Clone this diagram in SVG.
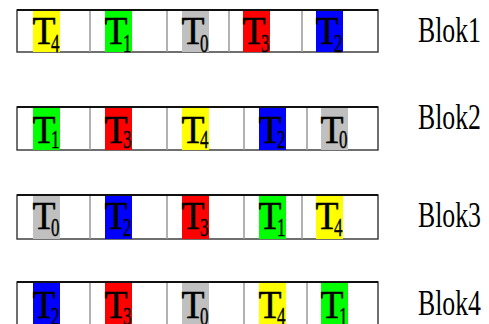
<svg xmlns="http://www.w3.org/2000/svg" width="489" height="324" viewBox="0 0 489 324">
<style>
.box{fill:#fff;stroke:#333;stroke-width:1.4}
.top{stroke:#111;stroke-width:2}
.div{stroke:#999;stroke-width:1.5}
.t{font-family:"Liberation Serif","Times New Roman",serif;font-size:39px;fill:#000;stroke:#000;stroke-width:0.5}
.s{font-family:"Liberation Serif","Times New Roman",serif;font-size:25px;fill:#000;stroke:#000;stroke-width:0.4}
.lbl{font-family:"Liberation Serif","Times New Roman",serif;font-size:36px;fill:#000}
.Y{fill:#ffff00}.G{fill:#00ff00}.Gr{fill:#c0c0c0}.R{fill:#ff0000}.B{fill:#0000ff}
</style>
<rect width="489" height="324" fill="#fff"/>
<g id="blok1">
<rect class="box" x="17" y="10" width="361" height="42"/>
<line class="top" x1="17" y1="10" x2="378" y2="10"/>
<rect class="Y" x="33" y="11" width="27" height="41"/>
<rect class="G" x="105" y="11" width="27" height="41"/>
<rect class="Gr" x="182" y="11" width="27" height="41"/>
<rect class="R" x="243" y="11" width="27" height="41"/>
<rect class="B" x="316" y="11" width="27" height="41"/>
<line class="div" x1="90" y1="11" x2="90" y2="52"/>
<line class="div" x1="167" y1="11" x2="167" y2="52"/>
<line class="div" x1="229" y1="11" x2="229" y2="52"/>
<line class="div" x1="302" y1="11" x2="302" y2="52" stroke="#333"/>
<text class="t" x="32.5" y="44" textLength="23" lengthAdjust="spacingAndGlyphs">T</text><text class="s" x="51" y="51.5" textLength="8.5" lengthAdjust="spacingAndGlyphs">4</text>
<text class="t" x="104.5" y="44" textLength="23" lengthAdjust="spacingAndGlyphs">T</text><text class="s" x="123" y="51.5" textLength="8.5" lengthAdjust="spacingAndGlyphs">1</text>
<text class="t" x="181.5" y="44" textLength="23" lengthAdjust="spacingAndGlyphs">T</text><text class="s" x="200" y="51.5" textLength="8.5" lengthAdjust="spacingAndGlyphs">0</text>
<text class="t" x="242.5" y="44" textLength="23" lengthAdjust="spacingAndGlyphs">T</text><text class="s" x="261" y="51.5" textLength="8.5" lengthAdjust="spacingAndGlyphs">3</text>
<text class="t" x="315.5" y="44" textLength="23" lengthAdjust="spacingAndGlyphs">T</text><text class="s" x="334" y="51.5" textLength="8.5" lengthAdjust="spacingAndGlyphs">2</text>
<text class="lbl" x="418" y="42" textLength="63" lengthAdjust="spacingAndGlyphs">Blok1</text>
</g>
<g id="blok2">
<rect class="box" x="17" y="107" width="361" height="43"/>
<line class="top" x1="17" y1="107" x2="378" y2="107"/>
<rect class="G" x="33" y="108" width="27" height="42"/>
<rect class="R" x="105" y="108" width="27" height="42"/>
<rect class="Y" x="182" y="108" width="27" height="42"/>
<rect class="B" x="259" y="108" width="27" height="42"/>
<rect class="Gr" x="321" y="108" width="27" height="42"/>
<line class="div" x1="90" y1="108" x2="90" y2="150"/>
<line class="div" x1="167" y1="108" x2="167" y2="150"/>
<line class="div" x1="244" y1="108" x2="244" y2="150"/>
<line class="div" x1="307" y1="108" x2="307" y2="150"/>
<text class="t" x="32.5" y="143" textLength="23" lengthAdjust="spacingAndGlyphs">T</text><text class="s" x="51" y="148" textLength="8.5" lengthAdjust="spacingAndGlyphs">1</text>
<text class="t" x="104.5" y="143" textLength="23" lengthAdjust="spacingAndGlyphs">T</text><text class="s" x="123" y="148" textLength="8.5" lengthAdjust="spacingAndGlyphs">3</text>
<text class="t" x="181.5" y="143" textLength="23" lengthAdjust="spacingAndGlyphs">T</text><text class="s" x="200" y="148" textLength="8.5" lengthAdjust="spacingAndGlyphs">4</text>
<text class="t" x="258.5" y="143" textLength="23" lengthAdjust="spacingAndGlyphs">T</text><text class="s" x="277" y="148" textLength="8.5" lengthAdjust="spacingAndGlyphs">2</text>
<text class="t" x="320.5" y="143" textLength="23" lengthAdjust="spacingAndGlyphs">T</text><text class="s" x="339" y="148" textLength="8.5" lengthAdjust="spacingAndGlyphs">0</text>
<text class="lbl" x="418" y="129" textLength="63" lengthAdjust="spacingAndGlyphs">Blok2</text>
</g>
<g id="blok3">
<rect class="box" x="17" y="195" width="361" height="44"/>
<line class="top" x1="17" y1="195" x2="378" y2="195"/>
<rect class="Gr" x="33" y="196" width="27" height="43"/>
<rect class="B" x="105" y="196" width="27" height="43"/>
<rect class="R" x="182" y="196" width="27" height="43"/>
<rect class="G" x="259" y="196" width="27" height="43"/>
<rect class="Y" x="316" y="196" width="27" height="43"/>
<line class="div" x1="90" y1="196" x2="90" y2="239"/>
<line class="div" x1="167" y1="196" x2="167" y2="239"/>
<line class="div" x1="244" y1="196" x2="244" y2="239"/>
<line class="div" x1="302" y1="196" x2="302" y2="239" stroke="#333"/>
<text class="t" x="32.5" y="229" textLength="23" lengthAdjust="spacingAndGlyphs">T</text><text class="s" x="51" y="235.5" textLength="8.5" lengthAdjust="spacingAndGlyphs">0</text>
<text class="t" x="104.5" y="229" textLength="23" lengthAdjust="spacingAndGlyphs">T</text><text class="s" x="123" y="235.5" textLength="8.5" lengthAdjust="spacingAndGlyphs">2</text>
<text class="t" x="181.5" y="229" textLength="23" lengthAdjust="spacingAndGlyphs">T</text><text class="s" x="200" y="235.5" textLength="8.5" lengthAdjust="spacingAndGlyphs">3</text>
<text class="t" x="258.5" y="229" textLength="23" lengthAdjust="spacingAndGlyphs">T</text><text class="s" x="277" y="235.5" textLength="8.5" lengthAdjust="spacingAndGlyphs">1</text>
<text class="t" x="315.5" y="229" textLength="23" lengthAdjust="spacingAndGlyphs">T</text><text class="s" x="334" y="235.5" textLength="8.5" lengthAdjust="spacingAndGlyphs">4</text>
<text class="lbl" x="418" y="227" textLength="63" lengthAdjust="spacingAndGlyphs">Blok3</text>
</g>
<g id="blok4">
<rect class="box" x="17" y="282" width="361" height="50"/>
<line class="top" x1="17" y1="282" x2="378" y2="282"/>
<rect class="B" x="33" y="283" width="27" height="45"/>
<rect class="R" x="105" y="283" width="27" height="45"/>
<rect class="Gr" x="182" y="283" width="27" height="45"/>
<rect class="Y" x="259" y="283" width="27" height="45"/>
<rect class="G" x="321" y="283" width="27" height="45"/>
<line class="div" x1="90" y1="283" x2="90" y2="330"/>
<line class="div" x1="167" y1="283" x2="167" y2="330"/>
<line class="div" x1="244" y1="283" x2="244" y2="330"/>
<line class="div" x1="307" y1="283" x2="307" y2="330"/>
<text class="t" x="32.5" y="318" textLength="23" lengthAdjust="spacingAndGlyphs">T</text><text class="s" x="51" y="324.5" textLength="8.5" lengthAdjust="spacingAndGlyphs">2</text>
<text class="t" x="104.5" y="318" textLength="23" lengthAdjust="spacingAndGlyphs">T</text><text class="s" x="123" y="324.5" textLength="8.5" lengthAdjust="spacingAndGlyphs">3</text>
<text class="t" x="181.5" y="318" textLength="23" lengthAdjust="spacingAndGlyphs">T</text><text class="s" x="200" y="324.5" textLength="8.5" lengthAdjust="spacingAndGlyphs">0</text>
<text class="t" x="258.5" y="318" textLength="23" lengthAdjust="spacingAndGlyphs">T</text><text class="s" x="277" y="324.5" textLength="8.5" lengthAdjust="spacingAndGlyphs">4</text>
<text class="t" x="320.5" y="318" textLength="23" lengthAdjust="spacingAndGlyphs">T</text><text class="s" x="339" y="324.5" textLength="8.5" lengthAdjust="spacingAndGlyphs">1</text>
<text class="lbl" x="418" y="315" textLength="63" lengthAdjust="spacingAndGlyphs">Blok4</text>
</g>
</svg>
